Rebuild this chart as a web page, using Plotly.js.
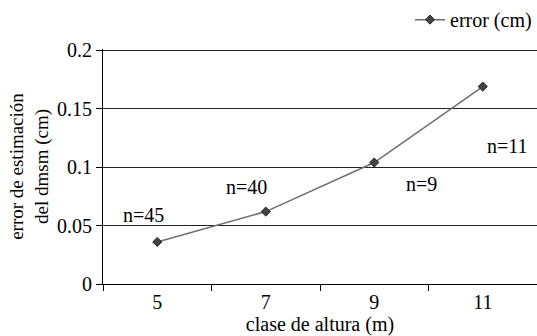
<!DOCTYPE html>
<html><head><meta charset="utf-8">
<script src="https://cdn.plot.ly/plotly-3.0.1.min.js"></script>
</head><body style="margin:0"><div id="c"></div>
<script>
const categories = ["5", "7", "9", "11"];
const errorCm = [0.036, 0.062, 0.104, 0.169];
const nLabels = ["n=45", "n=40", "n=9", "n=11"];
const yTicks = [0, 0.05, 0.1, 0.15, 0.2];
const yTickText = ["0", "0.05", "0.1", "0.15", "0.2"];

const labelDx = [-0.127, -0.177, 0.44, 0.228];
const labelY = [0.059, 0.083, 0.086, 0.118];

const FAM = "Liberation Serif";
function f(sz) { return {family: FAM, size: sz, color: '#000'}; }
const trace = {
  x: categories, y: errorCm, type: 'scatter', mode: 'lines+markers', name: 'error (cm)',
  line: {color: '#6e6e6e', width: 1.5},
  marker: {symbol: 'diamond', size: 7, color: '#444', line: {color: '#222', width: 1}}
};
const annotations = nLabels.map((t, i) => ({
  x: i + labelDx[i], y: labelY[i], xref: 'x', yref: 'y', text: t, showarrow: false,
  font: f(20)
}));
Plotly.newPlot('c', [trace], {
  width: 537, height: 336,
  margin: {l: 103, r: 0, t: 40, b: 52},
  paper_bgcolor: '#fff', plot_bgcolor: '#fff',
  font: f(20),
  showlegend: true,
  legend: {x: 1, y: 1.125, xanchor: 'right', yanchor: 'middle', font: f(20),
           bgcolor: 'rgba(0,0,0,0)', itemwidth: 30},
  xaxis: {type: 'category', range: [-0.5, 3.5], tickson: 'boundaries', ticks: 'outside', ticklen: 6,
          tickcolor: '#000', showline: true, linecolor: '#000', linewidth: 1, showgrid: false,
          zeroline: false, tickfont: f(20),
          title: {text: 'clase de altura (m)', font: f(20), standoff: 0}},
  yaxis: {range: [0, 0.2012], tickvals: yTicks, ticktext: yTickText, ticks: 'outside', ticklen: 6,
          tickcolor: '#000', showline: true, linecolor: '#000', linewidth: 1,
          showgrid: true, gridcolor: '#222', gridwidth: 1, zeroline: false,
          tickfont: f(20),
          title: {text: 'error de estimación<br>del dmsm (cm)', font: f(19), standoff: 3}},
  annotations: annotations
}, {displayModeBar: false});
</script></body></html>
